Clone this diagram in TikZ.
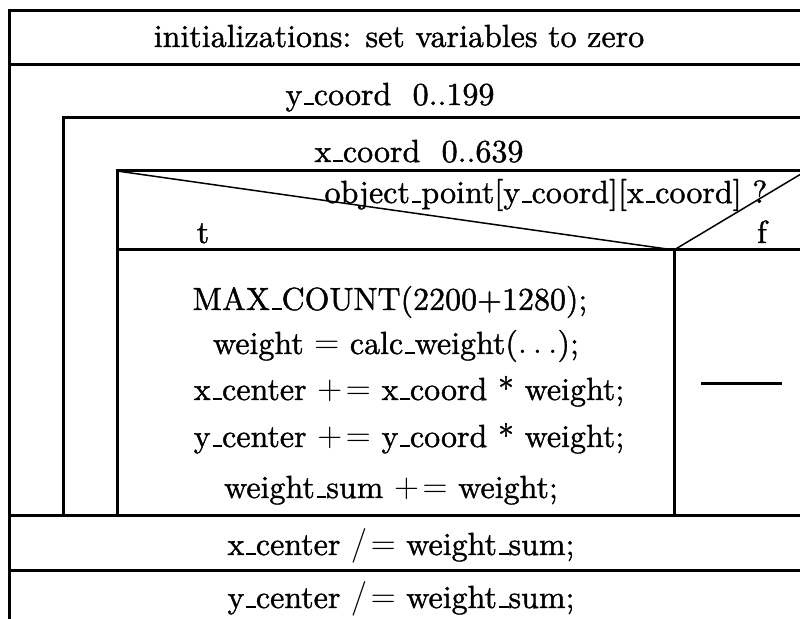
\documentclass[tikz,border=0pt]{standalone}
\usepackage{fontspec}
% text face: the 10pt design of Latin Modern, magnified
\font\codefont="[lmroman10-regular.otf]:mapping=tex-text;embolden=1.2" at 16pt
% classic short underscore rule
\newcommand\us{\leavevmode\kern.06em\vbox{\hrule height .06em width .3em}}
\begin{document}
\begin{tikzpicture}[x=0.5pt,y=-0.5pt,
  frame/.style={line width=1.5pt,line cap=rect},
  slant/.style={line width=0.75pt},
  lbl/.style={anchor=base,inner sep=0pt,font=\fontsize{16}{19}\selectfont\codefont}]
\useasboundingbox (0,0) rectangle (800,619);
% outer structure: sequence with two nested loops
\draw[frame] (806,11) -- (9,11) -- (9,625);
\draw[frame] (9,65) -- (806,65);
\draw[frame] (806,118) -- (63,118) -- (63,516);
\draw[frame] (806,171) -- (117,171) -- (117,516);
\draw[frame] (117,250) -- (806,250);
\draw[frame] (674,250) -- (674,516);
\draw[frame] (9,516) -- (806,516);
\draw[frame] (9,571) -- (806,571);
% decision triangle
\draw[slant] (117,171) -- (674,250) -- (806,171);
% empty false branch
\draw[frame,line cap=butt] (701,384) -- (782,384);
% texts
\node[lbl] (init) at (399,47) {initializations: set variables to zero};
\node[lbl] (yloop) at (390,105) {y\us coord\ \ 0..199};
\node[lbl] (xloop) at (419,162) {x\us coord\ \ 0..639};
\node[lbl] (cond) at (546,203) {object\us point[y\us coord][x\us coord] ?};
\node[lbl] (tlab) at (203,243) {t};
\node[lbl] (flab) at (762,243) {f};
\node[lbl] (s1) at (390,310) {MAX\us COUNT(2200+1280);};
\node[lbl] (s2) at (396,354) {weight $=$ calc\us weight($\ldots$);};
\node[lbl] (s3) at (409,400) {x\us center $+\!=$ x\us coord * weight;};
\node[lbl] (s4) at (409,447) {y\us center $+\!=$ y\us coord * weight;};
\node[lbl] (s5) at (391,498) {weight\us sum $+\!=$ weight;};
\node[lbl] (s6) at (401,555) {x\us center $/\!=$ weight\us sum;};
\node[lbl] (s7) at (401,608) {y\us center $/\!=$ weight\us sum;};
\end{tikzpicture}
\end{document}
